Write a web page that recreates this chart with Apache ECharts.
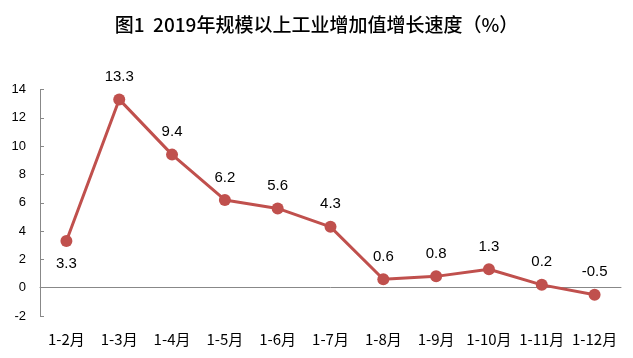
<!DOCTYPE html>
<html><head><meta charset="utf-8">
<script src="https://cdn.jsdelivr.net/npm/echarts@6/dist/echarts.min.js"></script>
<style>html,body{margin:0;padding:0;background:#fff}#c{width:633px;height:358px}</style>
</head><body><div id="c"></div>
<script>
const titleText = '图1  2019年规模以上工业增加值增长速度（%）';
const categories = ['1-2月','1-3月','1-4月','1-5月','1-6月','1-7月','1-8月','1-9月','1-10月','1-11月','1-12月'];
const values = [3.3,13.3,9.4,6.2,5.6,4.3,0.6,0.8,1.3,0.2,-0.5];
const yTicks = [-2,0,2,4,6,8,10,12,14];

const chart = echarts.init(document.getElementById('c'));
chart.setOption({
  animation:false,
  title:{text:titleText,left:'center',top:10,textStyle:{fontFamily:'Noto Sans CJK SC',fontSize:19,fontWeight:500,color:'#000'}},
  grid:{left:40,right:12,top:89.5,bottom:42},
  xAxis:{type:'category',data:categories,boundaryGap:true,
    axisLine:{lineStyle:{color:'#888',width:1}},axisTick:{show:false},
    axisLabel:{color:'#000',fontSize:15,margin:16,fontFamily:'Noto Sans CJK SC',interval:0}},
  yAxis:{type:'value',min:yTicks[0],max:yTicks[yTicks.length-1],interval:2,
    splitLine:{show:false},
    axisLine:{show:true,lineStyle:{color:'#888',width:1}},
    axisTick:{show:true,inside:true,length:4,lineStyle:{color:'#888'}},
    axisLabel:{color:'#000',fontSize:13,margin:14,fontFamily:'Liberation Sans'}},
  series:[{type:'line',data:values.map((v,i)=>({value:v,label:{position:i===0?'bottom':'top'}})),
    symbol:'circle',symbolSize:12,
    lineStyle:{color:'#C0504D',width:3},itemStyle:{color:'#C0504D'},
    label:{show:true,color:'#000',fontSize:15,distance:9,fontFamily:'Liberation Sans'}}]
});
</script></body></html>
